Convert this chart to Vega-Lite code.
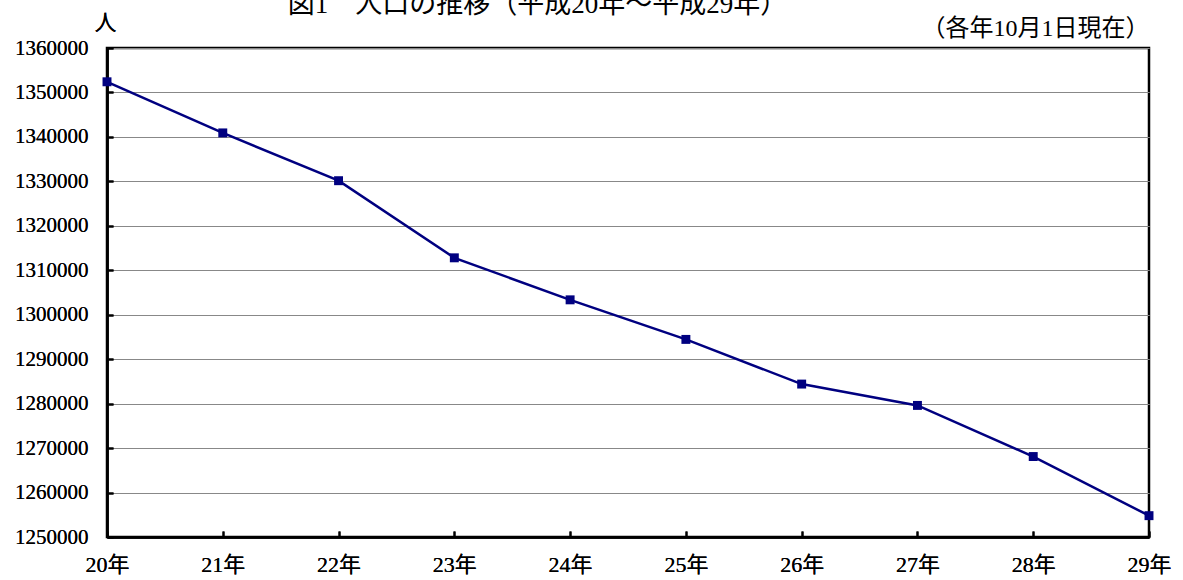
{
  "$schema": "https://vega.github.io/schema/vega-lite/v6.json",
  "width": 1042,
  "height": 489,
  "autosize": {"type": "none"},
  "padding": {"left": 107, "top": 48, "right": 34, "bottom": 43},
  "background": "white",
  "config": {
    "font": "'Liberation Serif', 'Noto Sans CJK JP', serif",
    "view": {"stroke": "black", "strokeWidth": 2.5}
  },
  "data": {
    "values": [
      {"year": "20年", "population": 1352400},
      {"year": "21年", "population": 1340900},
      {"year": "22年", "population": 1330150},
      {"year": "23年", "population": 1312800},
      {"year": "24年", "population": 1303350},
      {"year": "25年", "population": 1294450},
      {"year": "26年", "population": 1284400},
      {"year": "27年", "population": 1279600},
      {"year": "28年", "population": 1268100},
      {"year": "29年", "population": 1254800}
    ]
  },
  "encoding": {
    "x": {
      "field": "year",
      "type": "ordinal",
      "sort": null,
      "scale": {"type": "point", "padding": 0},
      "axis": {
        "orient": "bottom",
        "title": null,
        "labelAngle": 0,
        "labelFontSize": 22,
        "labelColor": "black",
        "labelPadding": 23,
        "domainColor": "black",
        "domainWidth": 2.5,
        "tickColor": "black",
        "tickWidth": 2,
        "tickSize": -6,
        "grid": false
      }
    },
    "y": {
      "field": "population",
      "type": "quantitative",
      "scale": {"domain": [1250000, 1360000], "nice": false, "zero": false},
      "axis": {
        "orient": "left",
        "values": [1250000, 1260000, 1270000, 1280000, 1290000, 1300000, 1310000, 1320000, 1330000, 1340000, 1350000, 1360000],
        "format": "d",
        "title": "人",
        "titleAngle": 0,
        "titleFontSize": 22,
        "titleFontWeight": "normal",
        "titleColor": "black",
        "titleX": -2,
        "titleY": -26,
        "titleAlign": "center",
        "titleBaseline": "middle",
        "labelFontSize": 21,
        "labelColor": "black",
        "labelPadding": 25,
        "domainColor": "black",
        "domainWidth": 2.5,
        "tickColor": "black",
        "tickWidth": 2,
        "tickSize": -6,
        "grid": true,
        "gridColor": "#888888",
        "gridWidth": 1
      }
    }
  },
  "layer": [
    {
      "mark": {"type": "line", "color": "#000080", "strokeWidth": 2.5}
    },
    {
      "mark": {"type": "square", "color": "#000080", "filled": true, "opacity": 1, "size": 80}
    },
    {
      "mark": {"type": "point", "opacity": 0},
      "encoding": {
        "x": {
          "field": "year",
          "type": "ordinal",
          "sort": null,
          "scale": {"type": "point", "padding": 0},
          "axis": {
            "orient": "top",
            "labels": false,
            "ticks": false,
            "domain": false,
            "grid": false,
            "title": "図1　人口の推移（平成20年～平成29年）",
            "titleFontSize": 27,
            "titleFontWeight": "normal",
            "titleColor": "black",
            "titleX": 430,
            "titleY": -36,
            "titleAlign": "center",
            "titleBaseline": "alphabetic"
          }
        },
        "y": {
          "field": "population",
          "type": "quantitative",
          "scale": {"domain": [1250000, 1360000], "nice": false, "zero": false},
          "axis": {
            "orient": "right",
            "labels": false,
            "ticks": false,
            "domain": false,
            "grid": false,
            "title": "（各年10月1日現在）",
            "titleAngle": 0,
            "titleFontSize": 24,
            "titleFontWeight": "normal",
            "titleColor": "black",
            "titleX": 0,
            "titleY": -13,
            "titleAlign": "right",
            "titleBaseline": "alphabetic"
          }
        }
      }
    }
  ],
  "resolve": {"axis": {"x": "independent", "y": "independent"}}
}
